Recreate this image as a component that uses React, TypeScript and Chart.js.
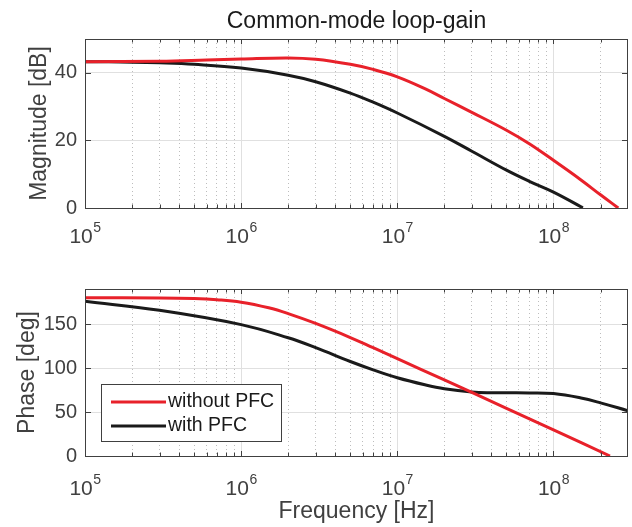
import React, { useEffect, useRef } from 'react';
import { Chart, registerables } from 'chart.js';

Chart.register(...registerables);

// ---------- data ----------
const TITLE = 'Common-mode loop-gain';
const LABEL_RED = 'without PFC';
const LABEL_BLACK = 'with PFC';
const X_LABEL = 'Frequency [Hz]';
const Y_LABEL_MAG = 'Magnitude [dB]';
const Y_LABEL_PHASE = 'Phase [deg]';

const X_MIN = 1e5;
const X_MAX = 3e8;
const X_MAJOR = [1e5, 1e6, 1e7, 1e8];
const X_TICK_BASE = '10';
const X_TICK_EXP = ['5', '6', '7', '8'];
const X_MINOR = [
  2e5, 3e5, 4e5, 5e5, 6e5, 7e5, 8e5, 9e5,
  2e6, 3e6, 4e6, 5e6, 6e6, 7e6, 8e6, 9e6,
  2e7, 3e7, 4e7, 5e7, 6e7, 7e7, 8e7, 9e7,
  2e8,
];

const MAG_TICKS = [0, 20, 40];
const PHASE_TICKS = [0, 50, 100, 150];

// magnitude, without PFC
const MAG_RED_F = [1e5, 3e5, 6e5, 1e6, 2e6, 3e6, 5e6, 7e6, 1e7, 1.5e7, 2e7, 3e7, 5e7, 7e7, 1e8, 1.5e8, 2e8, 2.6e8];
const MAG_RED = [43.3, 43.45, 43.8, 44.1, 44.4, 44.0, 42.5, 41.0, 38.8, 35.3, 32.4, 28.3, 23.0, 19.0, 14.1, 8.3, 3.9, 0];
// magnitude, with PFC
const MAG_BLACK_F = [1e5, 2e5, 3e5, 5e5, 1e6, 2e6, 3e6, 5e6, 7e6, 1e7, 2e7, 3e7, 5e7, 7e7, 1e8, 1.5e8, 1.54e8];
const MAG_BLACK = [43.3, 43.15, 42.95, 42.5, 41.4, 39.3, 37.36, 34.0, 31.3, 28.1, 21.2, 16.8, 11.2, 7.9, 4.7, 0.35, 0];

// phase, without PFC
const PH_RED_F = [1e5, 3e5, 5e5, 7e5, 1e6, 1.5e6, 2e6, 3e6, 5e6, 7e6, 1e7, 2e7, 3e7, 5e7, 1e8, 2.3e8];
const PH_RED = [180, 179.8, 179.1, 177.8, 175.0, 168.6, 162.0, 150.8, 134.8, 123.2, 110.7, 86.6, 72.3, 54.3, 29.8, 0];
// phase, with PFC
const PH_BLACK_F = [1e5, 3e5, 1e6, 2e6, 3e6, 5e6, 7e6, 1e7, 1.5e7, 2e7, 3e7, 4e7, 5e7, 7e7, 1e8, 1.5e8, 2e8, 3e8];
const PH_BLACK = [176, 165.8, 149.5, 134.5, 123.3, 107.5, 98.0, 89.0, 81.0, 76.5, 72.8, 71.9, 71.9, 71.8, 71.0, 66.0, 60.5, 51.5];

// ---------- styles ----------
const FONT = "'Liberation Sans', Arial, Helvetica, sans-serif";
const RED = '#e8212a';
const BLACK = '#1a1a1a';
const AXIS = '#404040';
const TEXT = '#404040';
const GRID_MAJOR = '#e0e0e0';
const GRID_MINOR = '#bdbdbd';

const toPts = (xs: number[], ys: number[]) => xs.map((x, i) => ({ x, y: ys[i] }));

const frameTicks = {
  id: 'frameTicks',
  afterDatasetsDraw(chart: any) {
    const { ctx, chartArea: a } = chart;
    ctx.save();
    ctx.strokeStyle = AXIS;
    ctx.lineWidth = 1;
    const ln = (x1: number, y1: number, x2: number, y2: number) => {
      ctx.beginPath();
      ctx.moveTo(x1, y1);
      ctx.lineTo(x2, y2);
      ctx.stroke();
    };
    ['x', 'x2'].forEach((id) => {
      const s = chart.scales[id];
      s.ticks.forEach((t: any) => {
        const px = Math.round(s.getPixelForValue(t.value)) + 0.5;
        const len = id === 'x' ? 5 : 3.5;
        ln(px, a.bottom, px, a.bottom - len);
        ln(px, a.top, px, a.top + len);
      });
    });
    const ys = chart.scales.y;
    ys.ticks.forEach((t: any) => {
      const py = Math.round(ys.getPixelForValue(t.value)) + 0.5;
      ln(a.left, py, a.left + 6, py);
      ln(a.right, py, a.right - 6, py);
    });
    ctx.strokeRect(a.left + 0.5, a.top + 0.5, a.right - a.left - 1, a.bottom - a.top);
    ctx.restore();
  },
};

// decade labels with a raised exponent, placed through the x scale
const makeDecadeLabels = (baseOff: number, expOff: number) => ({
  id: 'decadeLabels',
  afterDraw(chart: any) {
    const { ctx, chartArea: a } = chart;
    const s = chart.scales.x;
    ctx.save();
    ctx.fillStyle = TEXT;
    ctx.textBaseline = 'alphabetic';
    ctx.textAlign = 'left';
    X_MAJOR.forEach((v, i) => {
      const px = s.getPixelForValue(v);
      ctx.font = `21px ${FONT}`;
      const wb = ctx.measureText(X_TICK_BASE).width;
      ctx.font = `14px ${FONT}`;
      const we = ctx.measureText(X_TICK_EXP[i]).width;
      const x0 = px - (wb + we) / 2;
      ctx.font = `21px ${FONT}`;
      ctx.fillText(X_TICK_BASE, x0, a.bottom + baseOff);
      ctx.font = `14px ${FONT}`;
      ctx.fillText(X_TICK_EXP[i], x0 + wb + 0.5, a.bottom + expOff);
    });
    ctx.restore();
  },
});

const titlePlugin = {
  id: 'axTitle',
  afterDraw(chart: any) {
    const { ctx, chartArea: a } = chart;
    ctx.save();
    ctx.font = `23px ${FONT}`;
    ctx.fillStyle = '#1a1a1a';
    ctx.textAlign = 'center';
    ctx.textBaseline = 'middle';
    ctx.fillText(TITLE, (a.left + a.right) / 2, 21.3);
    ctx.restore();
  },
};

const boxLegend = {
  id: 'boxLegend',
  afterDraw(chart: any) {
    const { ctx, chartArea: a } = chart;
    const x0 = a.left + 16;
    const y0 = a.top + 95;
    const w = 180;
    const h = 57;
    ctx.save();
    ctx.fillStyle = '#ffffff';
    ctx.fillRect(x0, y0, w, h);
    ctx.strokeStyle = AXIS;
    ctx.lineWidth = 1;
    ctx.strokeRect(x0 + 0.5, y0 + 0.5, w, h);
    ctx.font = `19.5px ${FONT}`;
    ctx.textBaseline = 'middle';
    ctx.textAlign = 'left';
    chart.data.datasets.forEach((ds: any, i: number) => {
      const cy = y0 + 18 + i * 24;
      ctx.strokeStyle = ds.borderColor;
      ctx.lineWidth = 3;
      ctx.beginPath();
      ctx.moveTo(x0 + 10, cy);
      ctx.lineTo(x0 + 65, cy);
      ctx.stroke();
      ctx.fillStyle = '#1a1a1a';
      ctx.fillText(ds.label, x0 + 67, cy);
    });
    ctx.restore();
  },
};

function makeConfig(p: {
  red: { x: number; y: number }[];
  black: { x: number; y: number }[];
  yMax: number;
  yTicks: number[];
  yLabel: string;
  yTitlePad: number;
  padTop: number;
  xAxisHeight: number;
  showXTitle: boolean;
  plugins: any[];
}): any {
  const ds = (label: string, data: any[], color: string) => ({
    label,
    data,
    borderColor: color,
    backgroundColor: color,
    borderWidth: 3,
    pointRadius: 0,
    tension: 0.4,
    borderCapStyle: 'butt',
    xAxisID: 'x',
    yAxisID: 'y',
  });
  return {
    type: 'line',
    data: {
      datasets: [ds(LABEL_RED, p.red, RED), ds(LABEL_BLACK, p.black, BLACK)],
    },
    options: {
      animation: false,
      responsive: false,
      devicePixelRatio: 1,
      events: [],
      layout: { padding: { top: p.padTop, right: 4, left: 0, bottom: 0 } },
      plugins: { legend: { display: false }, tooltip: { enabled: false }, title: { display: false } },
      scales: {
        x: {
          type: 'logarithmic',
          position: 'bottom',
          min: X_MIN,
          max: X_MAX,
          afterBuildTicks: (s: any) => {
            s.ticks = X_MAJOR.map((v) => ({ value: v, major: true }));
          },
          afterFit: (s: any) => {
            s.height = p.xAxisHeight;
          },
          ticks: { display: false },
          grid: { color: GRID_MAJOR, lineWidth: 1, drawTicks: false },
          border: { display: false },
          title: {
            display: p.showXTitle,
            text: X_LABEL,
            color: TEXT,
            font: { size: 23, family: FONT },
            padding: { top: 0, bottom: 1.9 },
          },
        },
        x2: {
          type: 'logarithmic',
          position: 'bottom',
          min: X_MIN,
          max: X_MAX,
          afterBuildTicks: (s: any) => {
            s.ticks = X_MINOR.map((v) => ({ value: v }));
          },
          afterFit: (s: any) => {
            s.height = 0;
          },
          ticks: { display: false },
          grid: { color: GRID_MINOR, lineWidth: 1, drawTicks: false },
          border: { display: false, dash: [1, 3] },
        },
        y: {
          type: 'linear',
          position: 'left',
          min: 0,
          max: p.yMax,
          afterBuildTicks: (s: any) => {
            s.ticks = p.yTicks.map((v) => ({ value: v }));
          },
          afterFit: (s: any) => {
            s.width = 85;
          },
          ticks: {
            padding: 8,
            color: TEXT,
            font: { size: 20, family: FONT },
            callback: (v: any) => String(v),
          },
          grid: { color: GRID_MAJOR, lineWidth: 1, drawTicks: false },
          border: { display: false },
          title: {
            display: true,
            text: p.yLabel,
            color: TEXT,
            font: { size: 23, family: FONT },
            padding: { top: p.yTitlePad, bottom: 0 },
          },
        },
      },
    },
    plugins: [frameTicks, ...p.plugins],
  };
}

export default function App() {
  const topRef = useRef<HTMLCanvasElement | null>(null);
  const botRef = useRef<HTMLCanvasElement | null>(null);

  useEffect(() => {
    document.body.style.margin = '0';
    Chart.defaults.font.family = FONT;
    const top = new Chart(
      topRef.current as HTMLCanvasElement,
      makeConfig({
        red: toPts(MAG_RED_F, MAG_RED),
        black: toPts(MAG_BLACK_F, MAG_BLACK),
        yMax: 50,
        yTicks: MAG_TICKS,
        yLabel: Y_LABEL_MAG,
        yTitlePad: 25.5,
        padTop: 39,
        xAxisHeight: 54,
        showXTitle: false,
        plugins: [titlePlugin, makeDecadeLabels(35, 24)],
      })
    );
    const bot = new Chart(
      botRef.current as HTMLCanvasElement,
      makeConfig({
        red: toPts(PH_RED_F, PH_RED),
        black: toPts(PH_BLACK_F, PH_BLACK),
        yMax: 190,
        yTicks: PHASE_TICKS,
        yLabel: Y_LABEL_PHASE,
        yTitlePad: 13.5,
        padTop: 27,
        xAxisHeight: 71,
        showXTitle: true,
        plugins: [boxLegend, makeDecadeLabels(39, 28)],
      })
    );
    return () => {
      top.destroy();
      bot.destroy();
    };
  }, []);

  return (
    <div style={{ position: 'absolute', left: 0, top: 0, width: 632, height: 527, background: '#ffffff' }}>
      <canvas ref={topRef} width={632} height={262} style={{ position: 'absolute', left: 0, top: 0, width: 632, height: 262 }} />
      <canvas ref={botRef} width={632} height={265} style={{ position: 'absolute', left: 0, top: 262, width: 632, height: 265 }} />
    </div>
  );
}
